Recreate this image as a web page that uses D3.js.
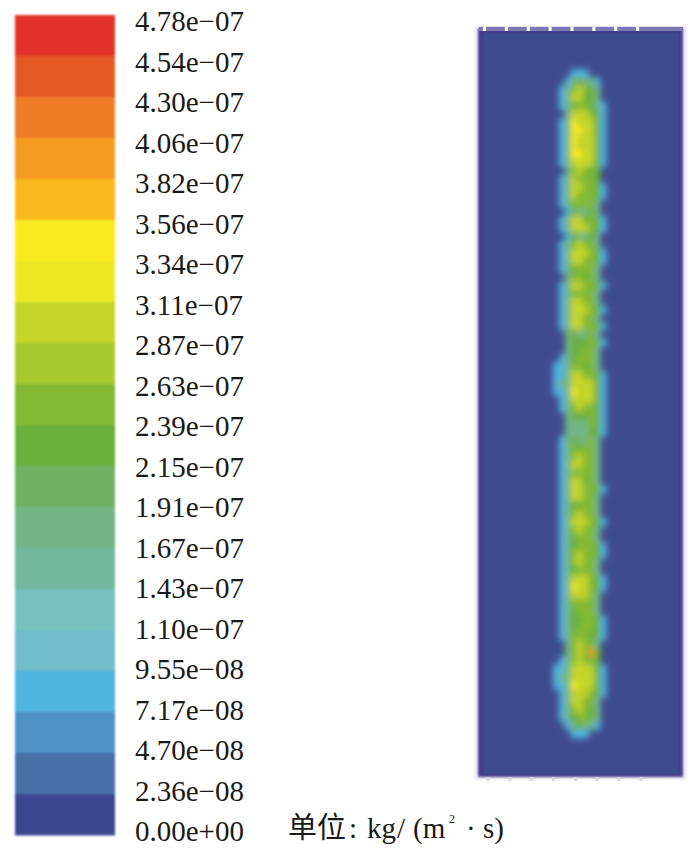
<!DOCTYPE html>
<html><head><meta charset="utf-8">
<script src="https://cdn.jsdelivr.net/npm/d3@7"></script>
<style>html,body{margin:0;padding:0;background:#fff}svg{display:block}</style>
</head><body><svg id="c" width="700" height="851"></svg>
<script>
const legendLabels = ["4.78e−07","4.54e−07","4.30e−07","4.06e−07","3.82e−07","3.56e−07","3.34e−07","3.11e−07","2.87e−07","2.63e−07","2.39e−07","2.15e−07","1.91e−07","1.67e−07","1.43e−07","1.10e−07","9.55e−08","7.17e−08","4.70e−08","2.36e−08","0.00e+00"];
const bandColors = ["#e4302a","#e35a26","#ef7d25","#f49c22","#f9b81d","#f8ea1f","#ede824","#c4d52c","#a6c92f","#83ba35","#69b13e","#6fb164","#73b585","#72b89d","#78c0c0","#6fbdcb","#4fb4df","#4f92c6","#466fa9","#3c4691"];
const digitValues = [0,0.9,1.9,2.3,2.6,2.9,3.1,3.4,4.0,4.5];
const massFlux = [
"000111000","001232210","012454320","012553320","012344321","002665431","012766531","012776531",
"012766531","012766531","012776631","012665531","002454330","012544430","012554431","012544431",
"012444420","001322320","012553431","012665431","001322320","012454420","012665431","012554431",
"012344420","002443420","012554431","012444420","012554420","012665431","012554420","012554431",
"002322420","002333431","002334420","012344420","112443420","112554431","122665531","112766531",
"012665531","012454431","002333431","002222431","002222331","012322420","012434420","012454420",
"012564420","012444420","012553420","012664431","012564420","012334420","012454420","012565431",
"012454420","012344420","012344431","012454431","012454420","012344420","012665431","012766431",
"012665420","012444420","012344420","012334431","012344431","012444331","002454420","002454830",
"012454430","112565531","122665531","112766531","012665431","012554420","012454320","012344320",
"001232210","000111000"
];
const svg = d3.select("#c");
const defs = svg.append("defs");
defs.append("filter").attr("id","soft").attr("x","-10%").attr("y","-5%").attr("width","120%").attr("height","110%")
  .append("feGaussianBlur").attr("stdDeviation",0.9);
defs.append("filter").attr("id","heat").attr("x","-30%").attr("y","-5%").attr("width","160%").attr("height","110%")
  .append("feGaussianBlur").attr("stdDeviation",3);

const ascending = legendLabels.map(s=>+s.replace("−","-")).reverse();
const color = d3.scaleThreshold().domain(ascending.slice(1,-1)).range(bandColors.slice().reverse());

const yBand = d3.scaleBand().domain(d3.range(bandColors.length)).range([15,835]);
svg.append("g").attr("filter","url(#soft)").selectAll("rect").data(bandColors).join("rect")
  .attr("x",15).attr("width",100).attr("y",(d,i)=>yBand(i)).attr("height",yBand.bandwidth()+0.5).attr("fill",d=>d);
const yLabel = d3.scalePoint().domain(legendLabels).range([21,831]);
const axis = svg.append("g").attr("transform","translate(135,0)")
  .call(d3.axisRight(yLabel).tickSize(0).tickPadding(0));
axis.select(".domain").remove();
axis.selectAll("text").attr("font-family","'Liberation Serif'").attr("font-size",29).attr("fill","#1a1a1a").attr("dy","0.34em");

const xPanel = d3.scaleLinear().domain([0,8]).range([485,660]);
const panel = svg.append("g");
panel.append("rect").attr("x",474).attr("y",26).attr("width",213).attr("height",754).attr("fill","#efeaf5").attr("filter","url(#soft)");
panel.append("rect").attr("x",478).attr("y",28).attr("width",205).attr("height",749).attr("fill","#453f8d").attr("filter","url(#soft)");
panel.append("rect").attr("x",484).attr("y",33).attr("width",194).attr("height",741).attr("fill","#3f4b8f");
panel.append("rect").attr("x",479).attr("y",27).attr("width",204).attr("height",4).attr("fill","#8078b4");
panel.append("g").selectAll("rect").data(d3.range(0,8)).join("rect")
  .attr("x",d=>xPanel(d)-2).attr("y",27).attr("width",3).attr("height",4).attr("fill","#fff");
panel.append("g").selectAll("rect").data(d3.range(0,8)).join("rect")
  .attr("x",d=>xPanel(d)+1.5).attr("y",777).attr("width",3).attr("height",4).attr("fill","#d9d3ea");

const nCols = massFlux[0].length;
const xCell = d3.scaleBand().domain(d3.range(nCols)).range([553,606]);
const yCell = d3.scaleLinear().domain([0,massFlux.length]).range([69,738]);
const cells = massFlux.flatMap((r,i)=>Array.from(r,(c,j)=>({i,j,v:digitValues[+c]*1e-7}))).filter(d=>d.v>0);
svg.append("g").attr("filter","url(#heat)").selectAll("rect").data(cells).join("rect")
  .attr("x",d=>xCell(d.j)).attr("y",d=>yCell(d.i)).attr("width",xCell.bandwidth()+0.5).attr("height",yCell(1)-yCell(0)+0.5)
  .attr("fill",d=>color(d.v));

const unitStyle = t=>t.attr("y",838).attr("font-family","'Liberation Serif'").attr("font-size",29).attr("fill","#1a1a1a");
svg.append("text").call(unitStyle).attr("x",288).attr("font-family","'Noto Sans CJK SC'").text("单位");
svg.append("text").call(unitStyle).attr("x",349).text(":");
svg.append("text").call(unitStyle).attr("x",367).text("kg");
svg.append("text").call(unitStyle).attr("x",397).text("/");
svg.append("text").call(unitStyle).attr("x",413).text("(m");
svg.append("text").call(unitStyle).attr("x",449).attr("y",823).attr("font-size",12).text("2");
svg.append("text").call(unitStyle).attr("x",466).text("·");
svg.append("text").call(unitStyle).attr("x",483).text("s)");
</script></body></html>
